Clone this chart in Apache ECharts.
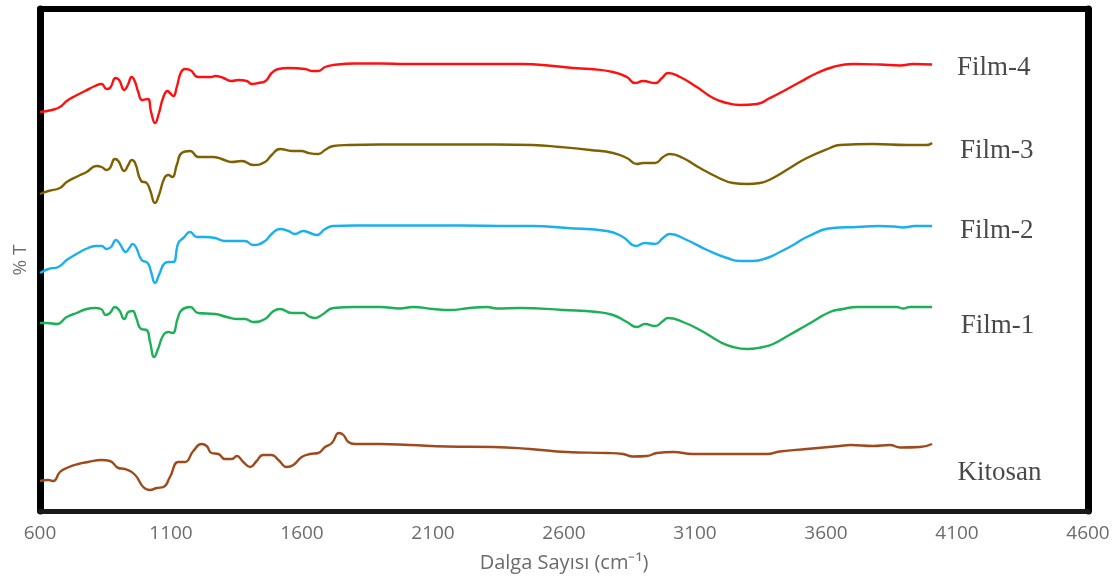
<!DOCTYPE html>
<html>
<head>
<meta charset="utf-8">
<script src="https://cdn.jsdelivr.net/npm/echarts@6/dist/echarts.min.js"></script>
<style>html,body{margin:0;padding:0;background:#fff}#c{width:1118px;height:581px}</style>
</head>
<body>
<div id="c"></div>
<script>
// Wavenumber ticks
const xTicks = [600, 1100, 1600, 2100, 2600, 3100, 3600, 4100, 4600];

// Series: [wavenumber (cm-1), %T (offset, arbitrary units)]
const film4 = [[600,399],[645,401],[676,404],[702,410],[734,415],[772,420],[810,425],[835,427],[854,422],[867,423],[889,433],[902,431],[922,421],[935,426],[950,434],[963,429],[975,419],[990,411],[1011,412],[1024,399],[1039,388],[1054,398],[1071,414],[1087,420],[1096,418],[1109,415],[1122,424],[1137,438],[1153,442],[1173,441],[1204,434],[1255,434],[1268,435],[1300,433],[1332,430],[1357,431],[1389,430],[1408,427],[1433,428],[1461,430],[1484,438],[1510,442],[1548,443],[1612,442],[1637,440],[1662,440],[1688,444],[1720,446],[1800,447.5],[1900,447.5],[2000,447],[2100,447],[2200,447],[2300,447],[2440,447],[2560,445],[2634,443],[2700,442],[2787,439],[2840,434],[2871,428],[2902,430],[2948,428],[2974,433],[2997,438],[3043,434],[3107,424],[3169,413],[3222,408],[3272,406],[3337,407],[3386,413],[3424,418],[3501,429],[3566,438],[3627,444],[3703,447],[3806,446.5],[3883,445.5],[3933,447],[4005,446.5]];

const film3 = [[600,317],[632,320],[676,323],[702,329],[746,335],[778,339],[816,345],[835,344],[854,341],[867,343],[886,352],[899,350],[922,340],[937,346],[950,351],[963,348],[986,330],[1007,328],[1020,321],[1039,308],[1054,316],[1075,333],[1090,336],[1105,334],[1122,346],[1141,358],[1173,360],[1204,354],[1261,354],[1293,352],[1332,349],[1370,350],[1414,346],[1459,349],[1484,356],[1516,362],[1561,360],[1599,360],[1624,358],[1662,357],[1688,361],[1720,365],[1780,366],[1900,366.5],[2050,366.5],[2200,366.5],[2340,366.5],[2480,366],[2585,364],[2700,361],[2787,358],[2840,353],[2878,347],[2902,348],[2948,348],[2978,354],[3004,357],[3054,353],[3119,343],[3184,334],[3245,328],[3298,327],[3348,328],[3398,333],[3462,343],[3527,353],[3615,363],[3653,366],[3780,367],[3909,366],[3985,366],[4005,368]];

const film2 = [[600,238],[632,242],[670,244],[702,251],[746,258],[784,263],[816,265],[835,265],[854,262],[871,264],[890,271],[905,267],[927,259],[941,263],[954,267],[966,264],[988,251],[1011,248],[1024,239],[1039,228],[1054,236],[1077,248],[1094,249],[1109,249],[1128,268],[1147,273],[1173,279],[1198,274],[1230,274],[1268,273],[1306,270],[1344,270],[1382,270],[1414,266],[1459,270],[1484,277],[1516,282],[1548,280],[1573,277],[1605,280],[1631,278],[1656,276],[1688,282],[1720,285],[1800,285.5],[2000,285.5],[2200,285.5],[2400,285],[2480,285],[2611,283],[2764,280],[2825,274],[2875,265],[2909,268],[2948,267],[2978,273],[3004,277],[3069,271],[3146,261],[3222,253],[3272,250],[3321,250],[3375,253],[3424,259],[3475,266],[3527,274],[3627,283],[3718,284],[3800,285],[3860,284.5],[3894,283.5],[3940,285],[4005,285]];

const film1 = [[600,188],[625,188],[664,187],[702,194],[740,198],[778,202],[810,203],[833,202],[851,196],[867,198],[886,204],[902,201],[922,192],[937,199],[954,200],[966,194],[986,182],[1007,181],[1020,169],[1036,154],[1049,161],[1071,176],[1090,179],[1106,178],[1126,193],[1141,201],[1173,204],[1204,198],[1268,197],[1313,194],[1357,192],[1382,192],[1414,189],[1459,192],[1487,199],[1516,202],[1561,198],[1605,198],[1624,195],[1650,193],[1675,196],[1720,203],[1800,204],[1900,204],[1974,202.5],[2024,204],[2100,202],[2165,201],[2240,203],[2306,204],[2344,202.5],[2432,203],[2596,201],[2726,199],[2787,196],[2840,189],[2878,184],[2909,187],[2948,185],[2978,190],[2997,193],[3054,189],[3119,181],[3196,169],[3245,164],[3298,162],[3359,164],[3398,167],[3460,176],[3527,186],[3615,199],[3665,202],[3718,204],[3800,204],[3870,204],[3894,202.5],[3920,204],[4005,204]];

const kitosan = [[600,30],[632,31],[651,30],[676,39],[702,43],[746,47],[784,49],[835,51],[867,50],[899,43],[924,42],[963,36],[994,24],[1020,21],[1045,23],[1071,24],[1096,34],[1128,49],[1153,49],[1185,60],[1217,67],[1236,65],[1255,58],[1281,57],[1306,52],[1332,52],[1351,55],[1376,49],[1402,44],[1427,50],[1452,56],[1484,56],[1510,51],[1542,44],[1567,46],[1599,54],[1631,57],[1662,58],[1688,64],[1714,68],[1741,78],[1758,76],[1777,69],[1802,67],[1841,67],[1898,67],[2012,66],[2153,64.5],[2330,64],[2470,62],[2611,59],[2764,58],[2825,57],[2863,54.5],[2917,55],[2955,58],[3016,59],[3092,57],[3234,57],[3374,57],[3424,59.5],[3527,62],[3653,65],[3692,66],[3780,65],[3844,66],[3883,63.5],[3959,64],[4005,67]];

// Curve labels: [wavenumber position, %T position, text]
const curveLabels = [[4240,443,'Film-4'],[4252,360,'Film-3'],[4252,280,'Film-2'],[4255,185,'Film-1'],[4262,38,'Kitosan']];

const seriesNames = ['Film-4','Film-3','Film-2','Film-1','Kitosan'];
const seriesData = [film4, film3, film2, film1, kitosan];
const seriesColors = ['#FF1010','#7F6000','#1AB0EE','#1DB057','#9E4A1C'];

const chart = echarts.init(document.getElementById('c'), null, {renderer:'canvas'});

const lineSeries = seriesNames.map((n,i)=>({
  name:n, type:'line', data:seriesData[i], showSymbol:false, symbol:'none',
  smooth:0.5,
  lineStyle:{color:seriesColors[i], width:2.4}, itemStyle:{color:seriesColors[i]},
  xAxisIndex:0, yAxisIndex:0, z:3
}));

lineSeries.push({
  type:'scatter', data:curveLabels, symbolSize:0, silent:true,
  label:{show:true, position:'inside', formatter:p=>p.value[2],
    fontFamily:'Liberation Serif', fontSize:27, color:'#1a1a1a'},
  xAxisIndex:0, yAxisIndex:0, z:4
});

chart.setOption({
  animation:false,
  backgroundColor:'#fff',
  grid:{left:40, right:30, top:9, bottom:70, containLabel:false},
  xAxis:[{
    type:'value', min:600, max:4600, interval:500, position:'bottom',
    axisLine:{show:true, onZero:false, lineStyle:{color:'#1a1a1a', width:5}},
    axisTick:{show:false}, splitLine:{show:false},
    axisLabel:{color:'#6b6b6b', fontFamily:'Open Sans', fontSize:19, margin:13, showMinLabel:true, showMaxLabel:true,
      formatter:v=>String(v)},
    name:'Dalga Sayısı (cm⁻¹)', nameLocation:'middle', nameGap:42,
    nameTextStyle:{color:'#6b6b6b', fontFamily:'Open Sans', fontSize:20}
  },{
    type:'value', min:600, max:4600, position:'top',
    axisLine:{show:true, onZero:false, lineStyle:{color:'#000', width:6}},
    axisTick:{show:false}, axisLabel:{show:false}, splitLine:{show:false}
  }],
  yAxis:[{
    type:'value', min:0, max:502, position:'left',
    axisLine:{show:true, onZero:false, lineStyle:{color:'#000', width:7}},
    axisTick:{show:false}, axisLabel:{show:false}, splitLine:{show:false},
    name:'% T', nameLocation:'middle', nameRotate:90, nameGap:10,
    nameTextStyle:{color:'#6b6b6b', fontFamily:'Open Sans', fontSize:19}
  },{
    type:'value', min:0, max:502, position:'right',
    axisLine:{show:true, onZero:false, lineStyle:{color:'#000', width:7}},
    axisTick:{show:false}, axisLabel:{show:false}, splitLine:{show:false}
  }],
  series:lineSeries
});
</script>
</body>
</html>
